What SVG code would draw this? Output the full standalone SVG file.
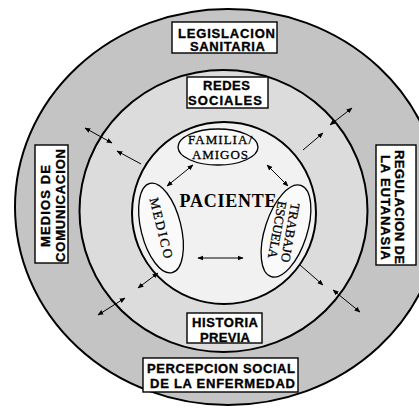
<svg xmlns="http://www.w3.org/2000/svg" width="419" height="410" viewBox="0 0 419 410">
<style>
.ring{stroke:#000;stroke-width:2}
.box{fill:#fff;stroke:#000;stroke-width:1.4}
.bt{font-family:"Liberation Sans",Arial,sans-serif;font-weight:bold;font-size:13px;fill:#000;stroke:#000;stroke-width:0.35;text-anchor:middle}
.st{font-family:"Liberation Serif","Times New Roman",serif;font-size:13px;fill:#000;stroke:#000;stroke-width:0.3;text-anchor:middle}
.ell{fill:#fafafa;stroke:#000;stroke-width:1.3}
.arr{stroke:#000;stroke-width:1;fill:none}
</style>
<defs>
<marker id="ah" viewBox="0 0 10 10" refX="9" refY="5" markerWidth="6" markerHeight="6" markerUnits="userSpaceOnUse" orient="auto-start-reverse">
<path d="M0,1 L10,5 L0,9 Z" fill="#000"/>
</marker>
</defs>
<rect width="419" height="410" fill="#fff"/>
<g id="outer-ring">
<ellipse class="ring" cx="228" cy="207" rx="213" ry="198" fill="#c4c4c4"/>
</g>
<g id="middle-ring">
<ellipse class="ring" cx="223.5" cy="211" rx="144" ry="141" fill="#dcdcdc"/>
</g>
<g id="inner-circle">
<ellipse class="ring" cx="224" cy="213" rx="92" ry="91" fill="#f1f1f1"/>
</g>
<g id="connectors">
<line class="arr" x1="193" y1="165" x2="167" y2="186" marker-start="url(#ah)" marker-end="url(#ah)"/>
<line class="arr" x1="267" y1="165" x2="288" y2="186" marker-start="url(#ah)" marker-end="url(#ah)"/>
<line class="arr" x1="198" y1="258" x2="243" y2="258" marker-start="url(#ah)" marker-end="url(#ah)"/>
<line class="arr" x1="141" y1="164" x2="117" y2="151" marker-end="url(#ah)"/>
<line class="arr" x1="85" y1="128" x2="112" y2="143" marker-start="url(#ah)" marker-end="url(#ah)"/>
<line class="arr" x1="303" y1="150" x2="323" y2="133" marker-end="url(#ah)"/>
<line class="arr" x1="330" y1="125" x2="352" y2="108" marker-start="url(#ah)" marker-end="url(#ah)"/>
<line class="arr" x1="138" y1="288" x2="158" y2="273" marker-start="url(#ah)" marker-end="url(#ah)"/>
<line class="arr" x1="98" y1="315" x2="125" y2="298" marker-start="url(#ah)" marker-end="url(#ah)"/>
<line class="arr" x1="300" y1="265" x2="323" y2="285" marker-end="url(#ah)"/>
<line class="arr" x1="333" y1="290" x2="360" y2="312" marker-start="url(#ah)" marker-end="url(#ah)"/>
</g>
<g id="legislacion">
<rect class="box" x="172" y="22" width="105" height="31"/>
<text class="bt" x="226.5" y="37.5" textLength="97" lengthAdjust="spacing">LEGISLACION</text>
<text class="bt" x="227.5" y="51" textLength="75" lengthAdjust="spacing">SANITARIA</text>
</g>
<g id="redes">
<rect class="box" x="187" y="77" width="81" height="31"/>
<text class="bt" x="226.5" y="90" textLength="47" lengthAdjust="spacing">REDES</text>
<text class="bt" x="225" y="105" textLength="74" lengthAdjust="spacing">SOCIALES</text>
</g>
<g id="historia">
<rect class="box" x="187" y="313" width="75" height="30"/>
<text class="bt" x="225" y="327" textLength="66" lengthAdjust="spacing">HISTORIA</text>
<text class="bt" x="225" y="342" textLength="50" lengthAdjust="spacing">PREVIA</text>
</g>
<g id="percepcion">
<rect class="box" x="143" y="358" width="155" height="34"/>
<text class="bt" x="221" y="373" textLength="148" lengthAdjust="spacing">PERCEPCION SOCIAL</text>
<text class="bt" x="222.5" y="388" textLength="145" lengthAdjust="spacing">DE LA ENFERMEDAD</text>
</g>
<g id="medios">
<rect class="box" x="35" y="145" width="33" height="118"/>
<text class="bt" transform="translate(50,206) rotate(-90)" textLength="82" lengthAdjust="spacing">MEDIOS DE</text>
<text class="bt" transform="translate(64.5,205.5) rotate(-90)" textLength="113" lengthAdjust="spacing">COMUNICACION</text>
</g>
<g id="regulacion">
<rect class="box" x="376" y="145" width="40" height="120"/>
<text class="bt" transform="translate(395,207) rotate(90)" textLength="114" lengthAdjust="spacing">REGULACION DE</text>
<text class="bt" transform="translate(380.5,207.5) rotate(90)" textLength="105" lengthAdjust="spacing">LA EUTANASIA</text>
</g>
<g id="paciente">
<text x="228" y="207" font-family="'Liberation Serif','Times New Roman',serif" font-weight="bold" font-size="18" text-anchor="middle" textLength="97" lengthAdjust="spacing">PACIENTE</text>
</g>
<g id="familia">
<ellipse class="ell" cx="218" cy="147" rx="40" ry="18"/>
<text class="st" x="220" y="144" font-size="12" textLength="64" lengthAdjust="spacing">FAMILIA/</text>
<text class="st" x="220" y="158.5" font-size="12" textLength="56" lengthAdjust="spacing">AMIGOS</text>
</g>
<g id="medico">
<ellipse class="ell" cx="161" cy="228" rx="46" ry="20" transform="rotate(76 161 228)"/>
<text class="st" transform="translate(157,229) rotate(76)" textLength="62" lengthAdjust="spacing">MEDICO</text>
</g>
<g id="trabajo">
<ellipse class="ell" cx="286" cy="231" rx="48" ry="21" transform="rotate(108 286 231)"/>
<text class="st" transform="translate(286,232) rotate(100)" textLength="60" lengthAdjust="spacing">TRABAJO</text>
<text class="st" transform="translate(273,229) rotate(100)" textLength="58" lengthAdjust="spacing">ESCUELA</text>
</g>
</svg>
